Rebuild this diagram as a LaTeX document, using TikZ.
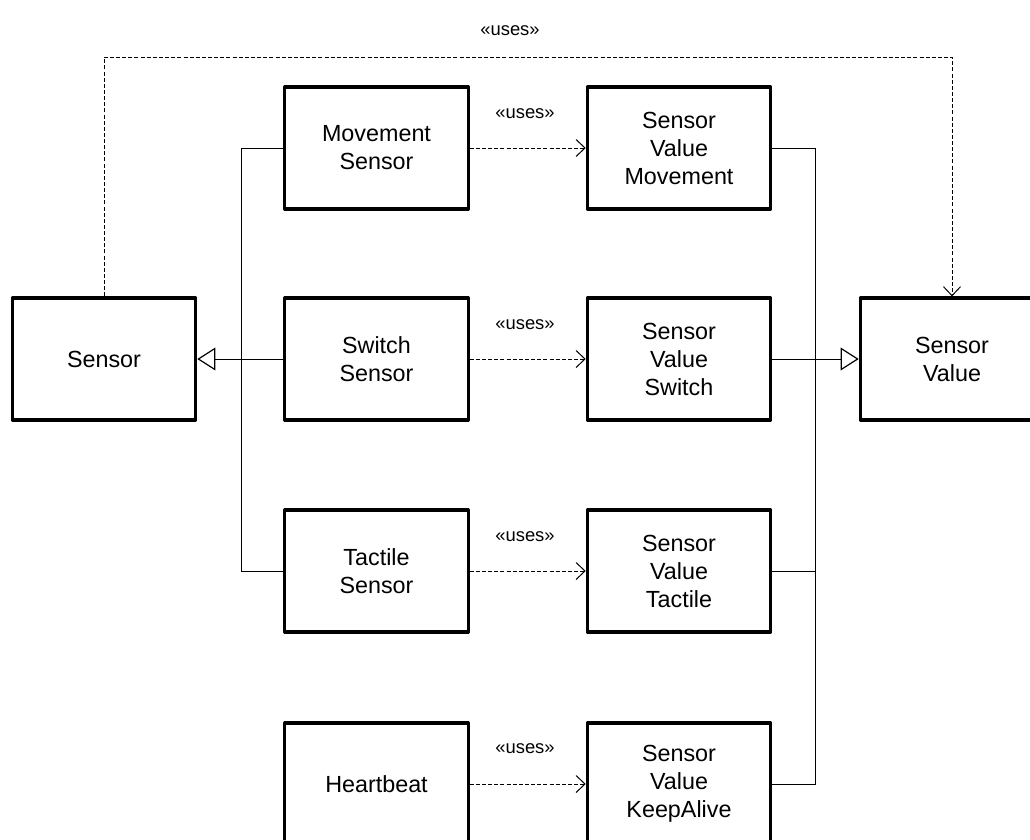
\documentclass[tikz,border=0pt]{standalone}
\usepackage{fontspec}
\setmainfont{Liberation Sans}
\usetikzlibrary{arrows.meta}
\begin{document}
\begin{tikzpicture}[x=0.75pt,y=-0.75pt,
  box/.style={draw=black, line width=2.4pt, line join=round, fill=white,
    minimum width=137.5pt, minimum height=91.5pt, inner sep=0pt,
    align=center, font=\fontsize{17.5}{21}\selectfont},
  conn/.style={draw=black, line width=0.75pt},
  uses/.style={conn, dash pattern=on 3pt off 1.6pt,
    -{Straight Barb[length=6.75pt,width=12.75pt,line width=0.75pt]}},
  gen/.style={conn, -{Triangle[open,length=13.5pt,width=17pt,line width=0.9pt]}},
  lbl/.style={font=\fontsize{13.8}{16}\selectfont, anchor=base, inner sep=0pt}
]
\useasboundingbox (0,0) rectangle (1030,839);
\clip (0,0) rectangle (1030,839);

% boxes
\node[box] (sensor) at (104,359) {Sensor};
\node[box] (ms) at (376.5,148) {Movement\\Sensor};
\node[box] (ss) at (376.5,359) {Switch\\Sensor};
\node[box] (ts) at (376.5,571) {Tactile\\Sensor};
\node[box] (hb) at (376.5,784) {Heartbeat};
\node[box] (svm) at (679,148) {Sensor\\Value\\Movement};
\node[box] (svs) at (679,359) {Sensor\\Value\\Switch};
\node[box] (svt) at (679,571) {Sensor\\Value\\Tactile};
\node[box] (svk) at (679,784) {Sensor\\Value\\KeepAlive};
\node[box] (sv) at (952,359) {Sensor\\Value};

% bus junctions
\coordinate (lb) at (241,359);
\coordinate (rb) at (815,359);
\coordinate (topl) at (104,57);
\coordinate (topr) at (952,57);

% generalisations
\draw[conn] (ms.west) -| (lb);
\draw[conn] (ts.west) -| (lb);
\draw[gen] (ss.west) -- (sensor.east);
\draw[conn] (svm.east) -| (rb);
\draw[conn] (svt.east) -| (rb);
\draw[conn] (svk.east) -| (rb);
\draw[gen] (svs.east) -- (sv.west);

% uses dependencies
\draw[uses] (ms.east) -- (svm.west);
\draw[uses] (ss.east) -- (svs.west);
\draw[uses] (ts.east) -- (svt.west);
\draw[uses] (hb.east) -- (svk.west);
\draw[uses] (sensor.north) -- (topl) -- (topr) -- (sv.north);

% labels
\node[lbl] (u0) at (510,35) {«uses»};
\node[lbl] (u1) at (525,118) {«uses»};
\node[lbl] (u2) at (525,329) {«uses»};
\node[lbl] (u3) at (525,541) {«uses»};
\node[lbl] (u4) at (525,753) {«uses»};
\end{tikzpicture}
\end{document}
